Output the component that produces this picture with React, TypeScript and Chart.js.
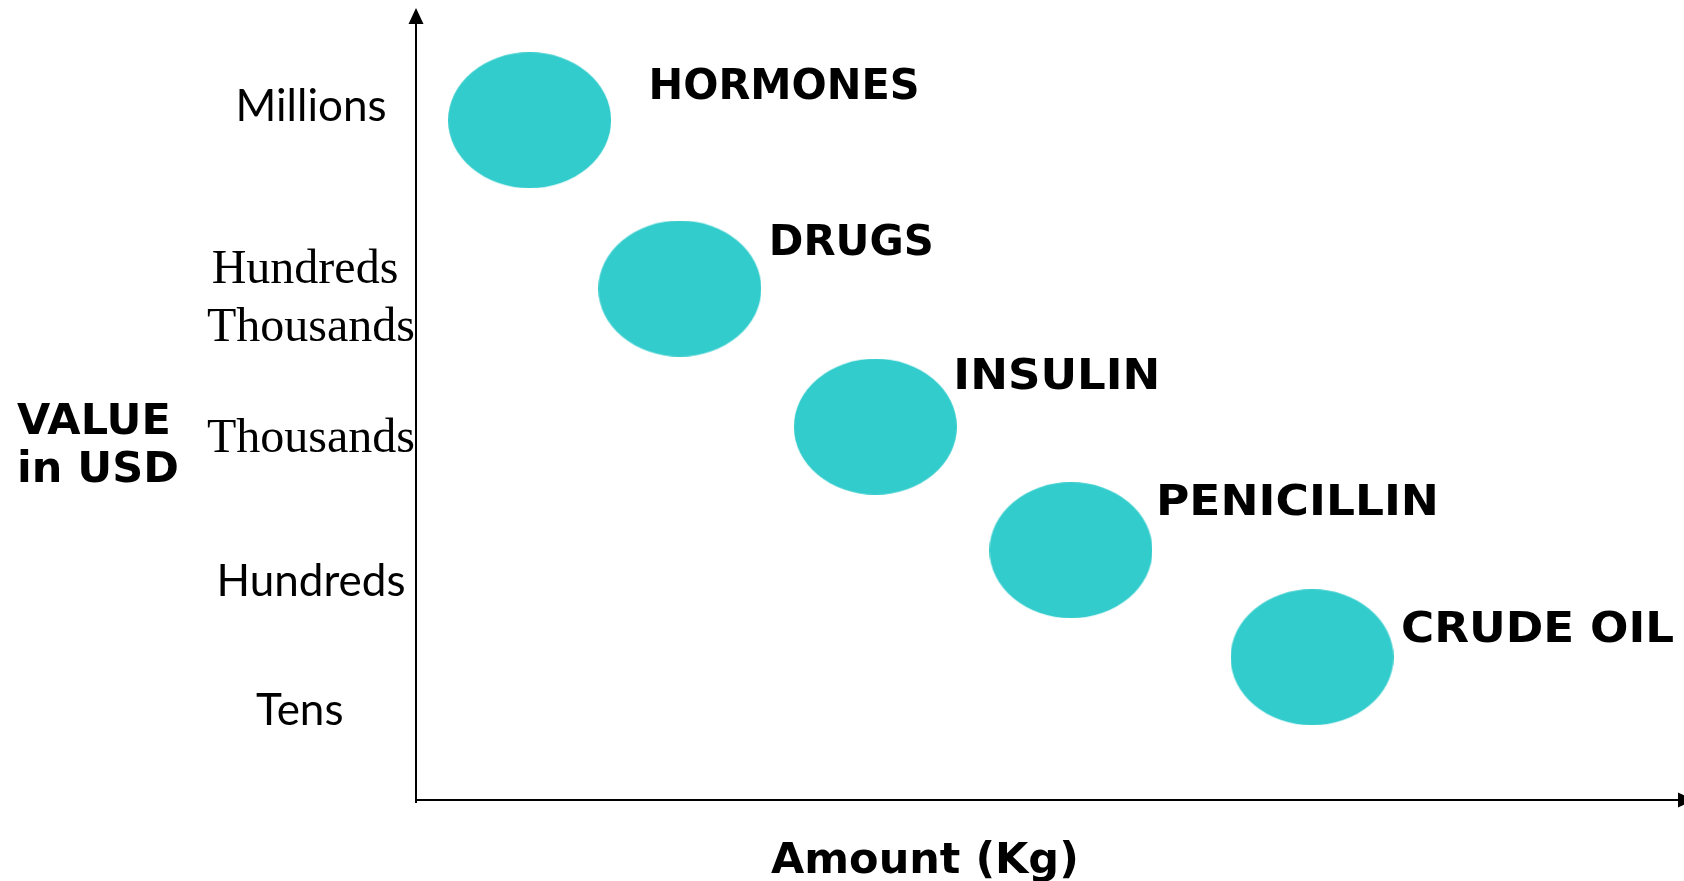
import React, { useEffect, useRef } from 'react';
import { Chart, registerables } from 'chart.js';

Chart.register(...registerables);

// Data (positions on abstract 0-100 scales)
const categories = ['HORMONES', 'DRUGS', 'INSULIN', 'PENICILLIN', 'CRUDE OIL'];
const amountValues = [9.0, 20.9, 36.4, 51.9, 71.0];
const usdValues = [87.6, 65.9, 48.1, 32.2, 18.4];
const tickValues = [11.55, 28.1, 46.5, 64.5, 89.3];
const tickLabels: string[][] = [['Tens  '], ['Hundreds'], ['Thousands'], ['Hundreds ', 'Thousands'], ['Millions']];
const tickSerif = [false, false, true, true, false];

// Label placement / styling (offset from bubble centre to text start & baseline, rendered width)
const labelOffsets = [
  [119, -21],
  [89, -34],
  [78, -38],
  [85, -35],
  [89, -15],
];
const labelWidths = [271, 165, 207, 283, 273];

const BUBBLE_COLOR = '#33CCCC';
const BOLD_FONT = '"DejaVu Sans", Verdana, sans-serif';

function makeEllipse(w: number, h: number, color: string): HTMLCanvasElement {
  const c = document.createElement('canvas');
  c.width = w;
  c.height = h;
  const g = c.getContext('2d')!;
  g.fillStyle = color;
  g.beginPath();
  g.ellipse(w / 2, h / 2, w / 2, h / 2, 0, 0, Math.PI * 2);
  g.fill();
  return c;
}

const decorPlugin = {
  id: 'decor',
  afterDraw(chart: any) {
    const { ctx, chartArea } = chart;
    const yScale = chart.scales.y;
    const xScale = chart.scales.x;
    ctx.save();
    ctx.fillStyle = '#000';
    ctx.strokeStyle = '#000';
    // y-axis arrow
    const ax = yScale.right;
    ctx.lineWidth = 2;
    ctx.beginPath();
    ctx.moveTo(ax, chartArea.bottom);
    ctx.lineTo(ax, chartArea.bottom + 3);
    ctx.stroke();
    ctx.beginPath();
    ctx.moveTo(ax, chartArea.top - 16);
    ctx.lineTo(ax - 7.5, chartArea.top);
    ctx.lineTo(ax + 7.5, chartArea.top);
    ctx.closePath();
    ctx.fill();
    // x-axis arrow
    const ay = xScale.top;
    ctx.beginPath();
    ctx.moveTo(chartArea.right + 16, ay);
    ctx.lineTo(chartArea.right, ay - 7.5);
    ctx.lineTo(chartArea.right, ay + 7.5);
    ctx.closePath();
    ctx.fill();

    // axis titles
    ctx.textAlign = 'left';
    ctx.textBaseline = 'alphabetic';
    ctx.font = `bold 43px ${BOLD_FONT}`;
    ctx.fillText('VALUE', 17, 434);
    ctx.fillText('in USD', 17, 482);
    ctx.font = `bold 43px ${BOLD_FONT}`;
    ctx.fillText('Amount (Kg)', 771, 873);

    // point labels
    const meta = chart.getDatasetMeta(0);
    meta.data.forEach((el: any, i: number) => {
      const [dx, dy] = labelOffsets[i];
      ctx.font = `bold 42px ${BOLD_FONT}`;
      const w = ctx.measureText(categories[i]).width;
      const sx = labelWidths[i] / w;
      ctx.save();
      ctx.translate(el.x + dx, el.y + dy);
      ctx.scale(sx, 1);
      ctx.fillText(categories[i], 0, 0);
      ctx.restore();
    });
    ctx.restore();
  },
};

export default function App() {
  const ref = useRef<HTMLCanvasElement | null>(null);

  useEffect(() => {
    document.body.style.margin = '0';
    const canvas = ref.current!;
    const ellipse = makeEllipse(163, 136, BUBBLE_COLOR);
    const chart = new Chart(canvas, {
      type: 'scatter',
      data: {
        labels: categories,
        datasets: [
          {
            label: 'Value',
            data: amountValues.map((x, i) => ({ x, y: usdValues[i] })),
            pointStyle: ellipse as any,
            backgroundColor: BUBBLE_COLOR,
            borderColor: BUBBLE_COLOR,
            showLine: false,
          },
        ],
      },
      options: {
        animation: false,
        responsive: false,
        devicePixelRatio: 1,
        layout: { padding: { top: 24, right: 6, left: 0, bottom: 0 } },
        plugins: {
          legend: { display: false },
          tooltip: { enabled: false },
        },
        scales: {
          x: {
            type: 'linear',
            min: 0,
            max: 100,
            grid: { display: false, drawTicks: false },
            ticks: { display: false },
            border: { display: true, color: '#000', width: 2 },
            afterFit: (scale: any) => {
              scale.height = 81;
              scale.paddingLeft = 0;
              scale.paddingRight = 0;
            },
          },
          y: {
            type: 'linear',
            min: 0,
            max: 100,
            grid: { display: false, drawTicks: false },
            border: { display: true, color: '#000', width: 2 },
            afterBuildTicks: (scale: any) => {
              scale.ticks = tickValues.map((v) => ({ value: v }));
            },
            ticks: {
              color: '#000',
              crossAlign: 'center',
              padding: 1,
              autoSkip: false,
              callback: (_v: any, index: number) => {
                const l = tickLabels[index];
                return l.length === 1 ? l[0] : l;
              },
              font: (ctx: any) =>
                tickSerif[ctx.index]
                  ? { family: '"Liberation Serif", "Times New Roman", serif', size: 48, lineHeight: 1.21 }
                  : { family: 'Lato, "Open Sans", sans-serif', size: 44, lineHeight: 1.2 },
            },
            afterFit: (scale: any) => {
              scale.width = 416;
              scale.paddingTop = 0;
              scale.paddingBottom = 0;
            },
          },
        },
      },
      plugins: [decorPlugin],
    });
    return () => chart.destroy();
  }, []);

  return (
    <div style={{ width: 1684, height: 881, background: '#fff' }}>
      <canvas ref={ref} width={1684} height={881} style={{ display: 'block' }} />
    </div>
  );
}
